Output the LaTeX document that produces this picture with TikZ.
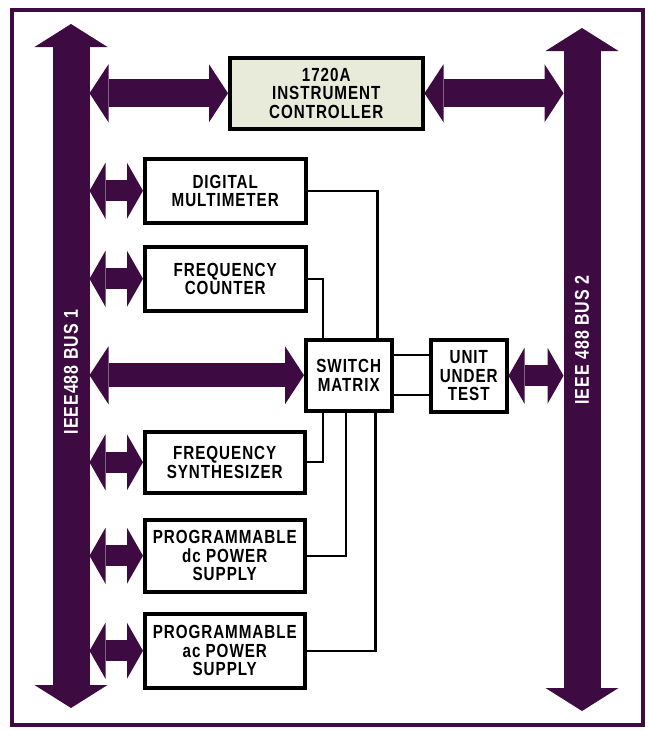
\documentclass[tikz,border=0pt]{standalone}
\usepackage{fontspec}
\setmainfont{Liberation Sans}[FakeStretch=0.8,LetterSpace=5]
\usepackage{tikz}
\usetikzlibrary{arrows.meta, positioning}
\definecolor{busviolet}{HTML}{3E0A42}
\definecolor{ctrlfill}{HTML}{E9EBDA}

\begin{document}
\begin{tikzpicture}[
				x=1pt, y=-1pt,
				block/.style={rectangle, draw=black, line width=3.5pt, fill=white, inner sep=0pt, anchor=north west, align=center, font=\bfseries\fontsize{19}{18.5}\selectfont},
				busarrow/.style={draw=busviolet, line width=37pt, {Triangle[width=73pt,length=23pt,line width=0pt]}-{Triangle[width=73pt,length=23pt,line width=0pt]}},
				fatarrow/.style={draw=busviolet, line width=28pt, {Triangle[width=58pt,length=19pt,line width=0pt]}-{Triangle[width=58pt,length=19pt,line width=0pt]}},
				stubarrow/.style={draw=busviolet, line width=21pt, {Triangle[width=56pt,length=16pt,line width=0pt]}-{Triangle[width=56pt,length=16pt,line width=0pt]}},
				wire/.style={draw=black, line width=2.2pt},
				buslabel/.style={text=white, inner sep=0pt, font=\bfseries\fontsize{20}{20}\selectfont}
				]
				\useasboundingbox (0,0) rectangle (648,731);
				\draw[busviolet, line width=4pt] (12,10) rectangle (643,725);
				
				% Buses
				\coordinate (b1n) at (71,24);
				\coordinate (b1s) at (71,708);
				\coordinate (b2n) at (582,28);
				\coordinate (b2s) at (582,711);
				\coordinate (b1e) at (89.5,0);
				\coordinate (b2w) at (563.5,0);
				\draw [busarrow] (b1s) -- (b1n);
				\draw [busarrow] (b2s) -- (b2n);
				\node (lbl1) [buslabel, rotate=90] at (71,372) {IEEE488 BUS 1};
				\node (lbl2) [buslabel, rotate=90] at (582,340) {IEEE 488 BUS 2};
				
				% Nodes
				\node (ctrl) [block, fill=ctrlfill, minimum width=193pt, minimum height=71pt] at (228,56) {1720A\\INSTRUMENT\\CONTROLLER};
				\node (dmm) [block, minimum width=161pt, minimum height=64pt] at (143,157) {DIGITAL\\MULTIMETER};
				\node (fc) [block, minimum width=161pt, minimum height=64pt] at (143,245) {FREQUENCY\\COUNTER};
				\node (mtx) [block, minimum width=86pt, minimum height=71pt] at (304,338) {SWITCH\\MATRIX};
				\node (uut) [block, minimum width=76pt, minimum height=72pt] at (429,338) {UNIT\\UNDER\\TEST};
				\node (synth) [block, minimum width=160pt, minimum height=61pt] at (143,430) {FREQUENCY\\SYNTHESIZER};
				\node (dcps) [block, minimum width=160pt, minimum height=72pt] at (143,518) {PROGRAMMABLE\\dc POWER\\SUPPLY};
				\node (acps) [block, minimum width=160pt, minimum height=74pt] at (143,612) {PROGRAMMABLE\\ac POWER\\SUPPLY};
				
				% Arrows
				\draw [fatarrow] (ctrl.west -| b1e) -- (ctrl.west);
				\draw [fatarrow] (ctrl.east) -- (ctrl.east -| b2w);
				\draw [stubarrow] (dmm.west -| b1e) -- (dmm.west);
				\draw [stubarrow] (fc.west -| b1e) -- (fc.west);
				\draw [fatarrow, line width=24pt] (mtx.west -| b1e) -- (mtx.west);
				\draw [stubarrow] (synth.west -| b1e) -- (synth.west);
				\draw [stubarrow] (dcps.west -| b1e) -- (dcps.west);
				\draw [stubarrow] (acps.west -| b1e) -- (acps.west);
				\draw [stubarrow] (uut.east) -- (uut.east -| b2w);
				
				% Wires
				\draw [wire] (dmm.east) -| ([xshift=-16pt]mtx.north east);
				\draw [wire] (fc.east) -| ([xshift=19pt]mtx.north west);
				\draw [wire] ([yshift=20pt]mtx.east) -- ([yshift=20pt]mtx.east -| uut.west);
				\draw [wire] ([yshift=-20pt]mtx.east) -- ([yshift=-20pt]mtx.east -| uut.west);
				\draw [wire] (synth.east) -| ([xshift=19pt]mtx.south west);
				\draw [wire] (dcps.east) -| ([xshift=42pt]mtx.south west);
				\draw [wire] (acps.east) -| ([xshift=-18pt]mtx.south east);
			\end{tikzpicture}
\end{document}
